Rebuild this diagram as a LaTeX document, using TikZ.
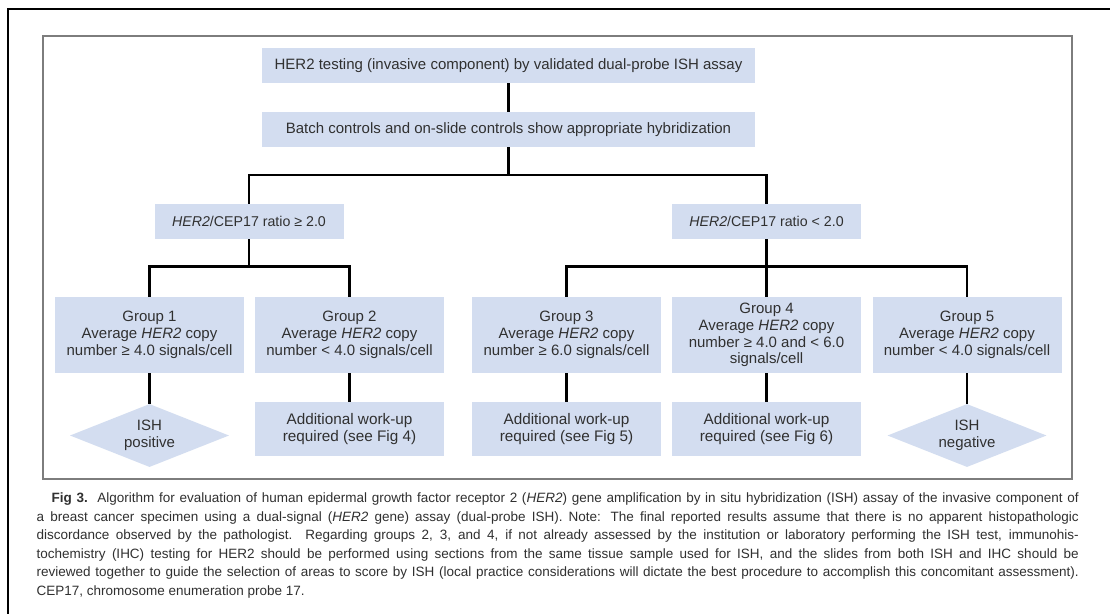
\documentclass[tikz,border=0pt]{standalone}
\usepackage{fontspec}
\usepackage{graphicx}
\setmainfont{Liberation Sans}
\usetikzlibrary{shapes.geometric,calc}
\definecolor{boxfill}{RGB}{211,221,240}
\definecolor{txt}{RGB}{48,48,48}
\definecolor{framegray}{RGB}{125,125,125}
\newsavebox\mycapbox
\newcommand\mycapline[1]{\sbox\mycapbox{#1}\ifdim\wd\mycapbox>1042pt\resizebox{1042pt}{\height}{\usebox\mycapbox}\else\makebox[1042pt][s]{#1}\fi}
\begin{document}
\begin{tikzpicture}[x=1pt,y=-1pt,
  wide/.style={fill=boxfill, inner sep=0pt, minimum width=493pt, minimum height=35pt, align=center, text=txt, font=\fontsize{15}{17}\selectfont},
  ratio/.style={fill=boxfill, inner sep=0pt, minimum width=189pt, minimum height=35pt, align=center, text=txt, font=\fontsize{14.2}{17}\selectfont},
  grp/.style={fill=boxfill, inner sep=0pt, minimum width=189pt, minimum height=76pt, align=center, text=txt, font=\fontsize{15}{16.8}\selectfont},
  res/.style={fill=boxfill, inner sep=0pt, minimum width=189pt, minimum height=54pt, align=center, text=txt, font=\fontsize{15.3}{16.8}\selectfont},
  dia/.style={diamond, aspect=2.52, fill=boxfill, inner sep=0pt, minimum width=159pt, minimum height=63pt, align=center, text=txt, font=\fontsize{15}{16.8}\selectfont},
  conn/.style={draw=black, line width=2.8pt, line join=miter},
  capt/.style={anchor=base west, inner sep=0pt, text=txt, font=\fontsize{13.5}{18.5}\selectfont}
]
\useasboundingbox (0,0) rectangle (1110,613);
\fill[white] (0,0) rectangle (1110,613);
% frames
\draw[black, line width=2pt] (8,614) -- (8,9) -- (1111,9);
\draw[framegray, line width=1.4pt] (43,36) rectangle (1072,479);

% nodes
\node[wide] (b1) at (508.5,65.5) {HER2 testing (invasive component) by validated dual-probe ISH assay};
\node[wide] (b2) at (508.5,129.5) {Batch controls and on-slide controls show appropriate hybridization};
\node[ratio] (r1) at (249,221.5) {\textit{HER2}/CEP17 ratio ≥ 2.0};
\node[ratio] (r2) at (766.5,221.5) {\textit{HER2}/CEP17 ratio < 2.0};

\node[grp] (g1) at (149.5,335) {Group 1\\Average \textit{HER2} copy\\number ≥ 4.0 signals/cell};
\node[grp] (g2) at (349.5,335) {Group 2\\Average \textit{HER2} copy\\number < 4.0 signals/cell};
\node[grp] (g3) at (566.5,335) {Group 3\\Average \textit{HER2} copy\\number ≥ 6.0 signals/cell};
\node[grp] (g4) at (766.5,335) {Group 4\\Average \textit{HER2} copy\\number ≥ 4.0 and < 6.0\\signals/cell};
\node[grp] (g5) at (967,335) {Group 5\\Average \textit{HER2} copy\\number < 4.0 signals/cell};

\node[dia] (d1) at (149.5,435.5) {ISH\\positive};
\node[res] (a2) at (349.5,429) {Additional work-up\\required (see Fig 4)};
\node[res] (a3) at (566.5,429) {Additional work-up\\required (see Fig 5)};
\node[res] (a4) at (766.5,429) {Additional work-up\\required (see Fig 6)};
\node[dia] (d5) at (967,435.5) {ISH\\negative};

% junctions
\coordinate (j1) at (508.5,175);
\coordinate (j2) at (249,266.5);
\coordinate (j3) at (766.5,266.5);

% connectors
\draw[conn] (b1.south) -- (b2.north);
\draw[conn] (b2.south) -- (j1);
\draw[conn] (r1.north) |- (j1) -| (r2.north);
\draw[conn] (r1.south) -- (j2);
\draw[conn] (g1.north) |- (j2) -| (g2.north);
\draw[conn] (r2.south) -- (j3) -- (g4.north);
\draw[conn] (g3.north) |- (j3) -| (g5.north);
\draw[conn] (g1.south) -- (d1.north);
\draw[conn] (g2.south) -- (a2.north);
\draw[conn] (g3.south) -- (a3.north);
\draw[conn] (g4.south) -- (a4.north);
\draw[conn] (g5.south) -- (d5.north);

% caption
\node[capt] (c1) at (36.5,502.5) {\mycapline{\hspace*{15pt}\textbf{Fig 3.}\ \ Algorithm for evaluation of human epidermal growth factor receptor 2 (\textit{HER2}) gene amplification by in situ hybridization (ISH) assay of the invasive component of}};
\node[capt] (c2) at (36.5,521) {\mycapline{a breast cancer specimen using a dual-signal (\textit{HER2} gene) assay (dual-probe ISH). Note: The final reported results assume that there is no apparent histopathologic}};
\node[capt] (c3) at (36.5,539.5) {\mycapline{discordance observed by the pathologist. Regarding groups 2, 3, and 4, if not already assessed by the institution or laboratory performing the ISH test, immunohis-}};
\node[capt] (c4) at (36.5,558) {\mycapline{tochemistry (IHC) testing for HER2 should be performed using sections from the same tissue sample used for ISH, and the slides from both ISH and IHC should be}};
\node[capt] (c5) at (36.5,576.5) {\mycapline{reviewed together to guide the selection of areas to score by ISH (local practice considerations will dictate the best procedure to accomplish this concomitant assessment).}};
\node[capt] (c6) at (36.5,595) {CEP17, chromosome enumeration probe 17.};
\end{tikzpicture}
\end{document}
